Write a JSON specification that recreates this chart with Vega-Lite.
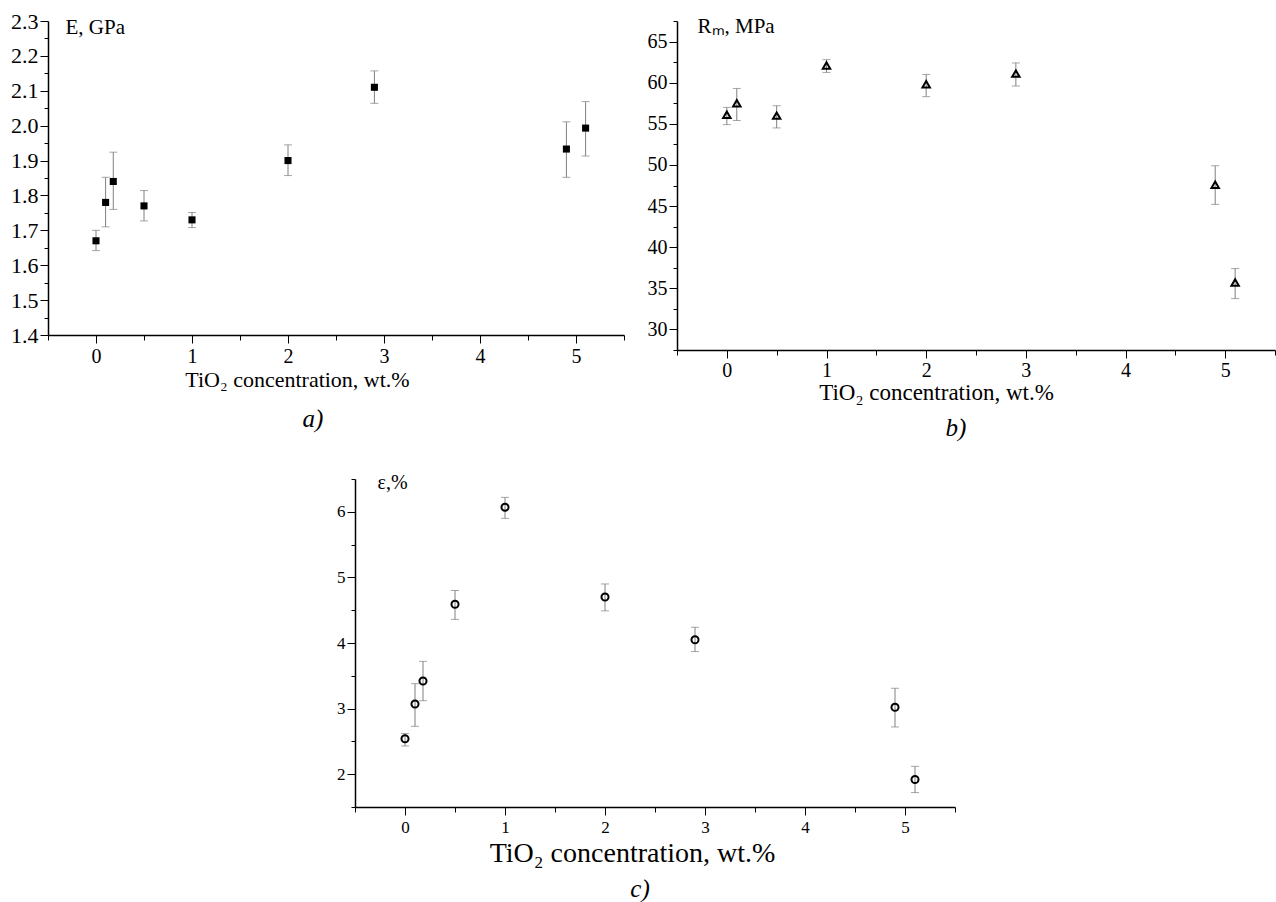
{
  "$schema": "https://vega.github.io/schema/vega-lite/v6.json",
  "autosize": {"type": "none"},
  "padding": {"left": 48, "top": 21, "right": 1228, "bottom": 881},
  "background": "white",
  "datasets": {
    "modulus": [
      {"x": 0, "v": 1.67, "lo": 1.642, "hi": 1.70},
      {"x": 0.1, "v": 1.78, "lo": 1.71, "hi": 1.852},
      {"x": 0.18, "v": 1.84, "lo": 1.76, "hi": 1.924},
      {"x": 0.5, "v": 1.77, "lo": 1.727, "hi": 1.814},
      {"x": 1, "v": 1.73, "lo": 1.708, "hi": 1.751},
      {"x": 2, "v": 1.90, "lo": 1.857, "hi": 1.945},
      {"x": 2.9, "v": 2.11, "lo": 2.064, "hi": 2.157},
      {"x": 4.9, "v": 1.933, "lo": 1.852, "hi": 2.011},
      {"x": 5.1, "v": 1.993, "lo": 1.913, "hi": 2.069}
    ],
    "strength": [
      {"x": 0, "v": 56.1, "lo": 54.9, "hi": 57.0},
      {"x": 0.1, "v": 57.5, "lo": 55.4, "hi": 59.3},
      {"x": 0.5, "v": 56.0, "lo": 54.5, "hi": 57.2},
      {"x": 1, "v": 62.1, "lo": 61.25, "hi": 62.8},
      {"x": 2, "v": 59.8, "lo": 58.3, "hi": 61.0},
      {"x": 2.9, "v": 61.1, "lo": 59.6, "hi": 62.4},
      {"x": 4.9, "v": 47.6, "lo": 45.2, "hi": 49.9},
      {"x": 5.1, "v": 35.7, "lo": 33.75, "hi": 37.4}
    ],
    "elongation": [
      {"x": 0, "v": 2.54, "lo": 2.43, "hi": 2.62},
      {"x": 0.1, "v": 3.07, "lo": 2.73, "hi": 3.38},
      {"x": 0.18, "v": 3.42, "lo": 3.12, "hi": 3.72},
      {"x": 0.5, "v": 4.59, "lo": 4.36, "hi": 4.80},
      {"x": 1, "v": 6.07, "lo": 5.90, "hi": 6.22},
      {"x": 2, "v": 4.70, "lo": 4.49, "hi": 4.90},
      {"x": 2.9, "v": 4.05, "lo": 3.87, "hi": 4.24},
      {"x": 4.9, "v": 3.02, "lo": 2.72, "hi": 3.31},
      {"x": 5.1, "v": 1.92, "lo": 1.72, "hi": 2.12}
    ]
  },
  "bounds": "full",
  "spacing": 29,
  "vconcat": [
    {
      "bounds": "flush",
      "spacing": 53,
      "hconcat": [
        {
          "width": 576,
          "height": 314,
          "data": {"name": "modulus"},
          "title": {"text": "a)", "orient": "bottom", "frame": "group", "anchor": "middle", "baseline": "alphabetic", "offset": 37, "dx": -23, "font": "Liberation Serif", "fontSize": 25, "fontStyle": "italic", "fontWeight": "normal", "color": "black"},
          "encoding": {
            "x": {
              "field": "x", "type": "quantitative",
              "scale": {"domain": [-0.5, 5.5], "nice": false, "zero": false},
              "axis": {
                "values": [-0.5, 0, 0.5, 1, 1.5, 2, 2.5, 3, 3.5, 4, 4.5, 5, 5.5],
                "labelExpr": "datum.value % 1 === 0 ? format(datum.value, 'd') : ''",
                "tickSize": {"condition": {"test": "datum.value % 1 !== 0", "value": 5}, "value": 8},
                "labelFontSize": 20, "labelPadding": 3,
                "title": "TiO₂ concentration, wt.%", "titleFontSize": 22,
                "titleX": 249, "titleY": 51, "titleAlign": "center", "titleBaseline": "alphabetic"
              }
            }
          },
          "layer": [
            {"mark": {"type": "rule", "color": "#808080", "strokeWidth": 1},
             "encoding": {"y": {"field": "lo", "type": "quantitative",
               "scale": {"domain": [1.4, 2.3], "nice": false, "zero": false},
               "axis": {"values": [1.4, 1.45, 1.5, 1.55, 1.6, 1.65, 1.7, 1.75, 1.8, 1.85, 1.9, 1.95, 2.0, 2.05, 2.1, 2.15, 2.2, 2.25, 2.3], "labelExpr": "abs(datum.value * 10 - round(datum.value * 10)) < 0.01 ? format(datum.value, '.1f') : ''", "tickSize": {"condition": {"test": "abs(datum.value * 10 - round(datum.value * 10)) > 0.01", "value": 4}, "value": 8}, "labelFontSize": 22, "labelPadding": 2, "title": "E, GPa", "titleFontSize": 21, "titleAngle": 0, "titleX": 17, "titleY": 12, "titleAlign": "left", "titleBaseline": "alphabetic"}},
               "y2": {"field": "hi"}}},
            {"mark": {"type": "tick", "orient": "horizontal", "size": 8, "thickness": 1, "color": "#808080"},
             "encoding": {"y": {"field": "lo", "type": "quantitative",
               "scale": {"domain": [1.4, 2.3], "nice": false, "zero": false},
               "axis": {"values": [1.4, 1.45, 1.5, 1.55, 1.6, 1.65, 1.7, 1.75, 1.8, 1.85, 1.9, 1.95, 2.0, 2.05, 2.1, 2.15, 2.2, 2.25, 2.3], "labelExpr": "abs(datum.value * 10 - round(datum.value * 10)) < 0.01 ? format(datum.value, '.1f') : ''", "tickSize": {"condition": {"test": "abs(datum.value * 10 - round(datum.value * 10)) > 0.01", "value": 4}, "value": 8}, "labelFontSize": 22, "labelPadding": 2, "title": "E, GPa", "titleFontSize": 21, "titleAngle": 0, "titleX": 17, "titleY": 12, "titleAlign": "left", "titleBaseline": "alphabetic"}}}},
            {"mark": {"type": "tick", "orient": "horizontal", "size": 8, "thickness": 1, "color": "#808080"},
             "encoding": {"y": {"field": "hi", "type": "quantitative",
               "scale": {"domain": [1.4, 2.3], "nice": false, "zero": false},
               "axis": {"values": [1.4, 1.45, 1.5, 1.55, 1.6, 1.65, 1.7, 1.75, 1.8, 1.85, 1.9, 1.95, 2.0, 2.05, 2.1, 2.15, 2.2, 2.25, 2.3], "labelExpr": "abs(datum.value * 10 - round(datum.value * 10)) < 0.01 ? format(datum.value, '.1f') : ''", "tickSize": {"condition": {"test": "abs(datum.value * 10 - round(datum.value * 10)) > 0.01", "value": 4}, "value": 8}, "labelFontSize": 22, "labelPadding": 2, "title": "E, GPa", "titleFontSize": 21, "titleAngle": 0, "titleX": 17, "titleY": 12, "titleAlign": "left", "titleBaseline": "alphabetic"}}}},
            {"mark": {"type": "square", "filled": true, "color": "black", "size": 50, "opacity": 1},
             "encoding": {"y": {"field": "v", "type": "quantitative",
               "scale": {"domain": [1.4, 2.3], "nice": false, "zero": false},
               "axis": {"values": [1.4, 1.45, 1.5, 1.55, 1.6, 1.65, 1.7, 1.75, 1.8, 1.85, 1.9, 1.95, 2.0, 2.05, 2.1, 2.15, 2.2, 2.25, 2.3], "labelExpr": "abs(datum.value * 10 - round(datum.value * 10)) < 0.01 ? format(datum.value, '.1f') : ''", "tickSize": {"condition": {"test": "abs(datum.value * 10 - round(datum.value * 10)) > 0.01", "value": 4}, "value": 8}, "labelFontSize": 22, "labelPadding": 2, "title": "E, GPa", "titleFontSize": 21, "titleAngle": 0, "titleX": 17, "titleY": 12, "titleAlign": "left", "titleBaseline": "alphabetic"}}}}
          ]
        },
        {
          "width": 598,
          "height": 329,
          "data": {"name": "strength"},
          "title": {"text": "b)", "orient": "bottom", "frame": "group", "anchor": "middle", "baseline": "alphabetic", "offset": 32, "dx": -20, "font": "Liberation Serif", "fontSize": 25, "fontStyle": "italic", "fontWeight": "normal", "color": "black"},
          "encoding": {
            "x": {
              "field": "x", "type": "quantitative",
              "scale": {"domain": [-0.5, 5.5], "nice": false, "zero": false},
              "axis": {
                "values": [-0.5, 0, 0.5, 1, 1.5, 2, 2.5, 3, 3.5, 4, 4.5, 5, 5.5],
                "labelExpr": "datum.value % 1 === 0 ? format(datum.value, 'd') : ''",
                "tickSize": {"condition": {"test": "datum.value % 1 !== 0", "value": 5}, "value": 8},
                "labelFontSize": 20, "labelPadding": 2,
                "title": "TiO₂ concentration, wt.%", "titleFontSize": 23,
                "titleX": 259, "titleY": 49, "titleAlign": "center", "titleBaseline": "alphabetic"
              }
            }
          },
          "layer": [
            {"mark": {"type": "rule", "color": "#808080", "strokeWidth": 1},
             "encoding": {"y": {"field": "lo", "type": "quantitative",
               "scale": {"domain": [27.5, 67.5], "nice": false, "zero": false},
               "axis": {"values": [27.5, 30, 32.5, 35, 37.5, 40, 42.5, 45, 47.5, 50, 52.5, 55, 57.5, 60, 62.5, 65, 67.5], "labelExpr": "datum.value % 5 === 0 ? format(datum.value, 'd') : ''", "tickSize": {"condition": {"test": "datum.value % 5 !== 0", "value": 4}, "value": 8}, "labelFontSize": 20, "labelPadding": 2, "title": "Rₘ, MPa", "titleFontSize": 21, "titleAngle": 0, "titleX": 20, "titleY": 11, "titleAlign": "left", "titleBaseline": "alphabetic"}},
               "y2": {"field": "hi"}}},
            {"mark": {"type": "tick", "orient": "horizontal", "size": 8, "thickness": 1, "color": "#808080"},
             "encoding": {"y": {"field": "lo", "type": "quantitative",
               "scale": {"domain": [27.5, 67.5], "nice": false, "zero": false},
               "axis": {"values": [27.5, 30, 32.5, 35, 37.5, 40, 42.5, 45, 47.5, 50, 52.5, 55, 57.5, 60, 62.5, 65, 67.5], "labelExpr": "datum.value % 5 === 0 ? format(datum.value, 'd') : ''", "tickSize": {"condition": {"test": "datum.value % 5 !== 0", "value": 4}, "value": 8}, "labelFontSize": 20, "labelPadding": 2, "title": "Rₘ, MPa", "titleFontSize": 21, "titleAngle": 0, "titleX": 20, "titleY": 11, "titleAlign": "left", "titleBaseline": "alphabetic"}}}},
            {"mark": {"type": "tick", "orient": "horizontal", "size": 8, "thickness": 1, "color": "#808080"},
             "encoding": {"y": {"field": "hi", "type": "quantitative",
               "scale": {"domain": [27.5, 67.5], "nice": false, "zero": false},
               "axis": {"values": [27.5, 30, 32.5, 35, 37.5, 40, 42.5, 45, 47.5, 50, 52.5, 55, 57.5, 60, 62.5, 65, 67.5], "labelExpr": "datum.value % 5 === 0 ? format(datum.value, 'd') : ''", "tickSize": {"condition": {"test": "datum.value % 5 !== 0", "value": 4}, "value": 8}, "labelFontSize": 20, "labelPadding": 2, "title": "Rₘ, MPa", "titleFontSize": 21, "titleAngle": 0, "titleX": 20, "titleY": 11, "titleAlign": "left", "titleBaseline": "alphabetic"}}}},
            {"mark": {"type": "point", "shape": "triangle-up", "filled": false, "stroke": "black", "strokeWidth": 2, "size": 55, "opacity": 1},
             "encoding": {"y": {"field": "v", "type": "quantitative",
               "scale": {"domain": [27.5, 67.5], "nice": false, "zero": false},
               "axis": {"values": [27.5, 30, 32.5, 35, 37.5, 40, 42.5, 45, 47.5, 50, 52.5, 55, 57.5, 60, 62.5, 65, 67.5], "labelExpr": "datum.value % 5 === 0 ? format(datum.value, 'd') : ''", "tickSize": {"condition": {"test": "datum.value % 5 !== 0", "value": 4}, "value": 8}, "labelFontSize": 20, "labelPadding": 2, "title": "Rₘ, MPa", "titleFontSize": 21, "titleAngle": 0, "titleX": 20, "titleY": 11, "titleAlign": "left", "titleBaseline": "alphabetic"}}}}
          ]
        }
      ]
    },
    {
      "bounds": "flush",
      "spacing": 45,
      "hconcat": [
        {
          "width": 262,
          "height": 10,
          "data": {"values": [{}]},
          "mark": {"type": "point", "opacity": 0},
          "encoding": {}
        },
        {
          "width": 600,
          "height": 328,
          "data": {"name": "elongation"},
          "title": {"text": "c)", "orient": "bottom", "frame": "group", "anchor": "middle", "baseline": "alphabetic", "offset": 30, "dx": -15, "font": "Liberation Serif", "fontSize": 25, "fontStyle": "italic", "fontWeight": "normal", "color": "black"},
          "encoding": {
            "x": {
              "field": "x", "type": "quantitative",
              "scale": {"domain": [-0.5, 5.5], "nice": false, "zero": false},
              "axis": {
                "values": [-0.5, 0, 0.5, 1, 1.5, 2, 2.5, 3, 3.5, 4, 4.5, 5, 5.5],
                "labelExpr": "datum.value % 1 === 0 ? format(datum.value, 'd') : ''",
                "tickSize": {"condition": {"test": "datum.value % 1 !== 0", "value": 5}, "value": 8},
                "labelFontSize": 17, "labelPadding": 4,
                "title": "TiO₂ concentration, wt.%", "titleFontSize": 28,
                "titleX": 277, "titleY": 54, "titleAlign": "center", "titleBaseline": "alphabetic"
              }
            }
          },
          "layer": [
            {"mark": {"type": "rule", "color": "#808080", "strokeWidth": 1},
             "encoding": {"y": {"field": "lo", "type": "quantitative",
               "scale": {"domain": [1.5, 6.5], "nice": false, "zero": false},
               "axis": {"values": [1.5, 2, 2.5, 3, 3.5, 4, 4.5, 5, 5.5, 6, 6.5], "labelExpr": "datum.value % 1 === 0 ? format(datum.value, 'd') : ''", "tickSize": {"condition": {"test": "datum.value % 1 !== 0", "value": 4}, "value": 8}, "labelFontSize": 17, "labelPadding": 2, "title": "ε,%", "titleFontSize": 20, "titleAngle": 0, "titleX": 22, "titleY": 9, "titleAlign": "left", "titleBaseline": "alphabetic"}},
               "y2": {"field": "hi"}}},
            {"mark": {"type": "tick", "orient": "horizontal", "size": 8, "thickness": 1, "color": "#808080"},
             "encoding": {"y": {"field": "lo", "type": "quantitative",
               "scale": {"domain": [1.5, 6.5], "nice": false, "zero": false},
               "axis": {"values": [1.5, 2, 2.5, 3, 3.5, 4, 4.5, 5, 5.5, 6, 6.5], "labelExpr": "datum.value % 1 === 0 ? format(datum.value, 'd') : ''", "tickSize": {"condition": {"test": "datum.value % 1 !== 0", "value": 4}, "value": 8}, "labelFontSize": 17, "labelPadding": 2, "title": "ε,%", "titleFontSize": 20, "titleAngle": 0, "titleX": 22, "titleY": 9, "titleAlign": "left", "titleBaseline": "alphabetic"}}}},
            {"mark": {"type": "tick", "orient": "horizontal", "size": 8, "thickness": 1, "color": "#808080"},
             "encoding": {"y": {"field": "hi", "type": "quantitative",
               "scale": {"domain": [1.5, 6.5], "nice": false, "zero": false},
               "axis": {"values": [1.5, 2, 2.5, 3, 3.5, 4, 4.5, 5, 5.5, 6, 6.5], "labelExpr": "datum.value % 1 === 0 ? format(datum.value, 'd') : ''", "tickSize": {"condition": {"test": "datum.value % 1 !== 0", "value": 4}, "value": 8}, "labelFontSize": 17, "labelPadding": 2, "title": "ε,%", "titleFontSize": 20, "titleAngle": 0, "titleX": 22, "titleY": 9, "titleAlign": "left", "titleBaseline": "alphabetic"}}}},
            {"mark": {"type": "point", "shape": "circle", "filled": false, "stroke": "black", "strokeWidth": 2, "size": 50, "opacity": 1},
             "encoding": {"y": {"field": "v", "type": "quantitative",
               "scale": {"domain": [1.5, 6.5], "nice": false, "zero": false},
               "axis": {"values": [1.5, 2, 2.5, 3, 3.5, 4, 4.5, 5, 5.5, 6, 6.5], "labelExpr": "datum.value % 1 === 0 ? format(datum.value, 'd') : ''", "tickSize": {"condition": {"test": "datum.value % 1 !== 0", "value": 4}, "value": 8}, "labelFontSize": 17, "labelPadding": 2, "title": "ε,%", "titleFontSize": 20, "titleAngle": 0, "titleX": 22, "titleY": 9, "titleAlign": "left", "titleBaseline": "alphabetic"}}}}
          ]
        }
      ]
    }
  ],
  "config": {
    "view": {"stroke": null},
    "font": "Liberation Serif",
    "axis": {
      "grid": false,
      "domainColor": "black",
      "domainWidth": 1.5,
      "tickColor": "black",
      "tickWidth": 1,
      "labelFont": "Liberation Serif",
      "labelColor": "black",
      "titleFont": "Liberation Serif",
      "titleColor": "black",
      "titleFontWeight": "normal",
      "labelOverlap": false,
      "labelFlush": false
    }
  }
}
